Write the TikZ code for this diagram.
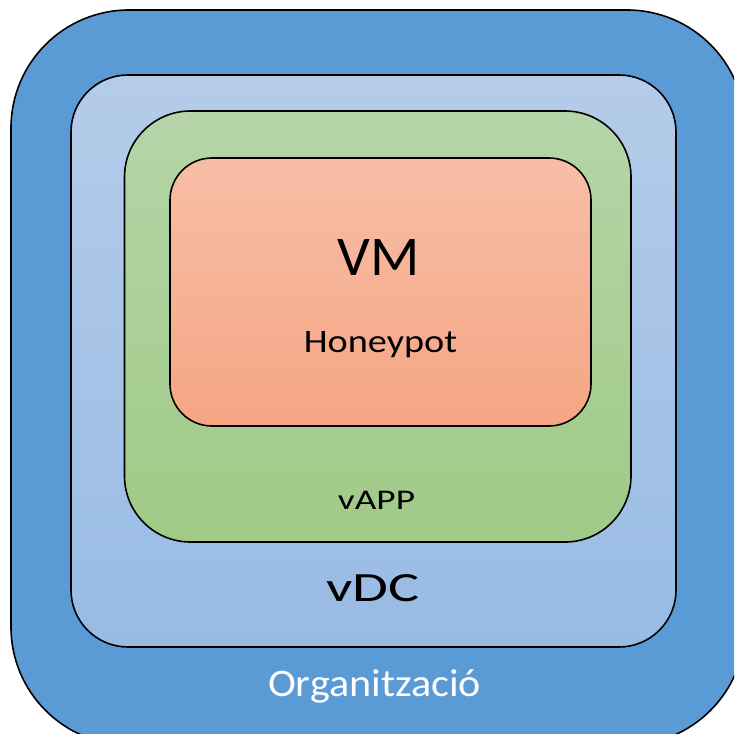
\documentclass[tikz,border=0pt]{standalone}
\usepackage{fontspec}
\setmainfont{Carlito}
\definecolor{orgblue}{HTML}{5B9BD5}
\definecolor{vdctop}{HTML}{B4CCE9}
\definecolor{vdcbot}{HTML}{98BBE4}
\definecolor{apptop}{HTML}{B5D5A8}
\definecolor{appbot}{HTML}{A0CA87}
\definecolor{vmtop}{HTML}{F7BEA7}
\definecolor{vmbot}{HTML}{F5A583}
\tikzset{
  boxline/.style={draw=black, line width=1.6pt},
  lbl/.style={anchor=base, inner sep=0pt, text=black}
}
\begin{document}
\begin{tikzpicture}[x=1pt, y=-1pt]
\useasboundingbox (0,0) rectangle (734,734);
\clip (0,0) rectangle (734,734);
% Organització
\path[boxline, fill=orgblue, rounded corners=118pt] (11,10) rectangle (745,745);
% vDC
\path[boxline, top color=vdctop, bottom color=vdcbot, rounded corners=57pt] (71,75) rectangle (676,647);
% vAPP
\path[boxline, top color=apptop, bottom color=appbot, rounded corners=66pt] (124.5,111) rectangle (631,542);
% VM
\path[boxline, top color=vmtop, bottom color=vmbot, rounded corners=42pt] (170,158) rectangle (591,426);
% labels
\node[lbl, font=\fontsize{56}{56}\selectfont] (vm) at (378.5,275) {\scalebox{1.03}[1]{VM}};
\node[lbl, font=\fontsize{32.7}{32.7}\selectfont] (honeypot) at (380.5,352.7) {\scalebox{1.17}[1]{Honeypot}};
\node[lbl, font=\fontsize{28.5}{28.5}\selectfont] (vapp) at (376.5,509) {\scalebox{1.31}[1]{vAPP}};
\node[lbl, font=\fontsize{41.6}{41.6}\selectfont] (vdc) at (373,601.7) {\scalebox{1.40}[1]{vDC}};
\node[lbl, text=white, font=\fontsize{39}{39}\selectfont] (org) at (374.5,696) {\scalebox{1.08}[1]{Organització}};
\end{tikzpicture}
\end{document}
